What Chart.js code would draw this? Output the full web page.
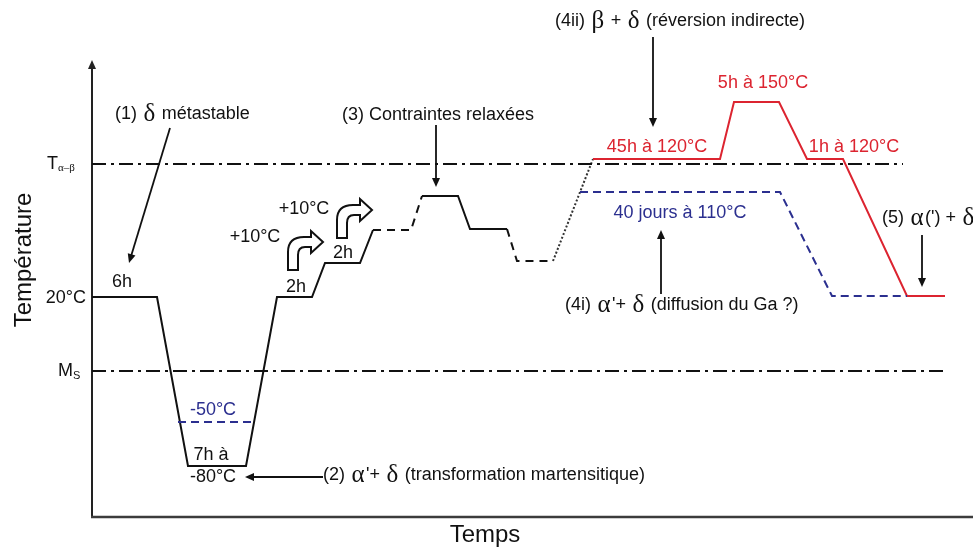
<!DOCTYPE html>
<html>
<head>
<meta charset="utf-8">
<script src="https://cdn.jsdelivr.net/npm/chart.js@4"></script>
<style>
  body { margin: 0; background: #fff; }
  #wrap { width: 973px; height: 548px; }
</style>
</head>
<body>
<div id="wrap"><canvas id="chart"></canvas></div>
<script>
// Schematic: x = time, y = temperature level (arbitrary units, not linear in °C)

// main thermal path (black), segment styles: s = solid, d = dashed, o = dotted
var blackX = [0, 65, 96, 154, 185, 220, 233, 268, 281, 319, 330, 366, 378, 415, 425, 461, 501];
var blackY = [220, 220, 51, 51, 220, 220, 254, 254, 287, 287, 321, 321, 288, 288, 256, 256, 358];
var blackSeg = ["s", "s", "s", "s", "s", "s", "s", "s", "d", "d", "s", "s", "s", "d", "d", "o"];

// red path: 45h at 120°C -> 5h at 150°C -> 1h at 120°C -> back to 20°C
var redX = [501, 628, 642, 687, 715, 751, 815, 853];
var redY = [358, 358, 415, 415, 358, 358, 221, 221];

// blue path: 40 days at 110°C -> 20°C
var blueX = [488, 688, 740, 815];
var blueY = [325, 325, 221, 221];

// -50°C variant of the cold step
var coldX = [86, 160];
var coldY = [95, 95];

// reference levels (T alpha-beta, Ms)
var levelY = [353, 146];
var levelEndX = [811, 853];
var level20 = 220;

var xMax = 881;
var yMax = 457;

function pts(xs, ys) {
  var out = [];
  for (var i = 0; i < xs.length; i++) out.push({ x: xs[i], y: ys[i] });
  return out;
}

var SANS = "18px 'Liberation Sans', Arial, sans-serif";
var TITLE = "24px 'Liberation Sans', Arial, sans-serif";
var GREEK = "25px 'Liberation Serif', 'Times New Roman', serif";
var RED = "#dc2430";
var BLUE = "#2b2f8f";
var INK = "#111";

function drawRuns(ctx, runs, x, y, align) {
  var total = 0;
  runs.forEach(function (r) {
    ctx.font = r.f || SANS;
    r.w = ctx.measureText(r.t).width + 2 * (r.pad || 0);
    total += r.w;
  });
  var cx = align === "center" ? x - total / 2 : align === "right" ? x - total : x;
  ctx.textAlign = "left";
  ctx.textBaseline = "middle";
  runs.forEach(function (r) {
    ctx.font = r.f || SANS;
    ctx.fillStyle = r.c || INK;
    ctx.fillText(r.t, cx + (r.pad || 0), y + (r.dy || 0));
    cx += r.w;
  });
}

function greek(t) {
  return { t: t, f: GREEK, pad: 1.5 };
}

function arrow(ctx, x1, y1, x2, y2) {
  var a = Math.atan2(y2 - y1, x2 - x1);
  ctx.strokeStyle = INK;
  ctx.fillStyle = INK;
  ctx.lineWidth = 1.8;
  ctx.beginPath();
  ctx.moveTo(x1, y1);
  ctx.lineTo(x2 - 7 * Math.cos(a), y2 - 7 * Math.sin(a));
  ctx.stroke();
  ctx.beginPath();
  ctx.moveTo(x2, y2);
  ctx.lineTo(x2 - 9 * Math.cos(a) + 4 * Math.sin(a), y2 - 9 * Math.sin(a) - 4 * Math.cos(a));
  ctx.lineTo(x2 - 9 * Math.cos(a) - 4 * Math.sin(a), y2 - 9 * Math.sin(a) + 4 * Math.cos(a));
  ctx.closePath();
  ctx.fill();
}

// hollow "turn right" arrow, anchored at bottom-left of its stem
function bentArrow(ctx, x, y) {
  ctx.save();
  ctx.translate(x, y);
  ctx.beginPath();
  ctx.moveTo(0, 0);
  ctx.lineTo(0, -18);
  ctx.quadraticCurveTo(0, -33, 16, -33);
  ctx.lineTo(23, -33);
  ctx.lineTo(23, -39);
  ctx.lineTo(35, -28);
  ctx.lineTo(23, -17);
  ctx.lineTo(23, -23);
  ctx.lineTo(17, -23);
  ctx.quadraticCurveTo(10, -23, 10, -15);
  ctx.lineTo(10, 0);
  ctx.closePath();
  ctx.fillStyle = "#fff";
  ctx.fill();
  ctx.strokeStyle = INK;
  ctx.lineWidth = 2;
  ctx.stroke();
  ctx.restore();
}

var annotations = {
  id: "annotations",
  beforeDatasetsDraw: function (chart) {
    var ctx = chart.ctx;
    var xs = chart.scales.x, ys = chart.scales.y;
    var X = function (v) { return xs.getPixelForValue(v); };
    var Y = function (v) { return ys.getPixelForValue(v); };
    ctx.save();
    // y axis with arrow
    ctx.strokeStyle = "#222";
    ctx.lineWidth = 2;
    ctx.beginPath();
    ctx.moveTo(X(0), Y(0));
    ctx.lineTo(X(0), Y(yMax) + 6);
    ctx.stroke();
    ctx.fillStyle = "#222";
    ctx.beginPath();
    ctx.moveTo(X(0), Y(yMax));
    ctx.lineTo(X(0) - 4, Y(yMax) + 9);
    ctx.lineTo(X(0) + 4, Y(yMax) + 9);
    ctx.closePath();
    ctx.fill();
    // x axis
    ctx.strokeStyle = "#3c3c3c";
    ctx.lineWidth = 2.6;
    ctx.beginPath();
    ctx.moveTo(X(0) - 1, Y(0));
    ctx.lineTo(X(xMax), Y(0));
    ctx.stroke();
    ctx.restore();
  },
  afterDatasetsDraw: function (chart) {
    var ctx = chart.ctx;
    var xs = chart.scales.x, ys = chart.scales.y;
    var X = function (v) { return xs.getPixelForValue(v); };
    var Y = function (v) { return ys.getPixelForValue(v); };
    ctx.save();

    // axis titles
    drawRuns(ctx, [{ t: "Temps", f: TITLE }], X(393), Y(-18), "center");
    ctx.save();
    ctx.translate(24, Y(257));
    ctx.rotate(-Math.PI / 2);
    drawRuns(ctx, [{ t: "Température", f: TITLE }], 0, 0, "center");
    ctx.restore();

    // level labels
    drawRuns(ctx, [{ t: "T" }, { t: "α–β", f: "11px 'Liberation Serif', serif", dy: 4 }], X(-45), Y(levelY[0]), "left");
    drawRuns(ctx, [{ t: "M" }, { t: "S", f: "11px 'Liberation Sans', Arial, sans-serif", dy: 5 }], X(-34), Y(levelY[1]), "left");
    drawRuns(ctx, [{ t: "20°C" }], X(-6), Y(level20 - 1), "right");

    // step labels
    drawRuns(ctx, [{ t: "6h" }], X(30), Y(235), "center");
    drawRuns(ctx, [{ t: "-50°C", c: BLUE }], X(121), Y(107), "center");
    drawRuns(ctx, [{ t: "7h à" }], X(119), Y(62), "center");
    drawRuns(ctx, [{ t: "-80°C" }], X(121), Y(40), "center");
    drawRuns(ctx, [{ t: "+10°C" }], X(163), Y(280), "center");
    drawRuns(ctx, [{ t: "+10°C" }], X(212), Y(308), "center");
    drawRuns(ctx, [{ t: "2h" }], X(204), Y(230), "center");
    drawRuns(ctx, [{ t: "2h" }], X(251), Y(264), "center");
    bentArrow(ctx, X(196), Y(247));
    bentArrow(ctx, X(245), Y(279));

    drawRuns(ctx, [{ t: "45h à 120°C", c: RED }], X(565), Y(370), "center");
    drawRuns(ctx, [{ t: "5h à 150°C", c: RED }], X(671), Y(434), "center");
    drawRuns(ctx, [{ t: "1h à 120°C", c: RED }], X(762), Y(370), "center");
    drawRuns(ctx, [{ t: "40 jours à 110°C", c: BLUE }], X(588), Y(304), "center");

    // numbered annotations
    drawRuns(ctx, [{ t: "(1) " }, greek("δ"), { t: " métastable" }], X(23), Y(403), "left");
    arrow(ctx, X(78), Y(389), X(37), Y(254));

    drawRuns(ctx, [{ t: "(2) " }, greek("α"), { t: "'+ " }, greek("δ"), { t: " (transformation martensitique)" }], X(231), Y(42), "left");
    arrow(ctx, X(231), Y(40), X(153), Y(40));

    drawRuns(ctx, [{ t: "(3) Contraintes relaxées" }], X(346), Y(402), "center");
    arrow(ctx, X(344), Y(392), X(344), Y(330));

    drawRuns(ctx, [{ t: "(4ii) " }, greek("β"), { t: " + " }, greek("δ"), { t: " (réversion indirecte)" }], X(463), Y(496), "left");
    arrow(ctx, X(561), Y(480), X(561), Y(390));

    drawRuns(ctx, [{ t: "(4i) " }, greek("α"), { t: "'+ " }, greek("δ"), { t: " (diffusion du Ga ?)" }], X(473), Y(212), "left");
    arrow(ctx, X(569), Y(223), X(569), Y(287));

    drawRuns(ctx, [{ t: "(5) " }, greek("α"), { t: "(') + " }, greek("δ")], X(790), Y(299), "left");
    arrow(ctx, X(830), Y(282), X(830), Y(230));

    ctx.restore();
  }
};

function dashFor(style) {
  if (style === "d") return [8, 6];
  if (style === "o") return [2, 2];
  return [];
}

var ctx = document.getElementById("chart").getContext("2d");
var chart = new Chart(ctx, {
  type: "scatter",
  data: {
    datasets: [
      {
        label: "T alpha-beta",
        data: pts([0, levelEndX[0]], [levelY[0], levelY[0]]),
        borderColor: INK,
        borderWidth: 2,
        borderDash: [14, 5, 3, 5]
      },
      {
        label: "Ms",
        data: pts([0, levelEndX[1]], [levelY[1], levelY[1]]),
        borderColor: INK,
        borderWidth: 2,
        borderDash: [14, 5, 3, 5]
      },
      {
        label: "-50°C",
        data: pts(coldX, coldY),
        borderColor: BLUE,
        borderWidth: 2,
        borderDash: [8, 5]
      },
      {
        label: "40 jours à 110°C",
        data: pts(blueX, blueY),
        borderColor: BLUE,
        borderWidth: 2,
        borderDash: [8, 5]
      },
      {
        label: "réversion",
        data: pts(redX, redY),
        borderColor: RED,
        borderWidth: 2
      },
      {
        label: "traitement",
        data: pts(blackX, blackY),
        borderColor: INK,
        borderWidth: 2,
        segment: {
          borderDash: function (c) { return dashFor(blackSeg[c.p0DataIndex]); },
          borderColor: function (c) { return blackSeg[c.p0DataIndex] === "o" ? "#333" : INK; }
        }
      }
    ]
  },
  options: {
    responsive: true,
    maintainAspectRatio: false,
    animation: false,
    showLine: true,
    layout: { padding: { left: 92, right: 0, top: 60, bottom: 31 } },
    elements: { point: { radius: 0 }, line: { tension: 0 } },
    datasets: { scatter: { showLine: true, clip: false, pointRadius: 0 } },
    plugins: { legend: { display: false }, tooltip: { enabled: false } },
    scales: {
      x: { type: "linear", min: 0, max: xMax, display: false },
      y: { type: "linear", min: 0, max: yMax, display: false }
    }
  },
  plugins: [annotations]
});
</script>
</body>
</html>
